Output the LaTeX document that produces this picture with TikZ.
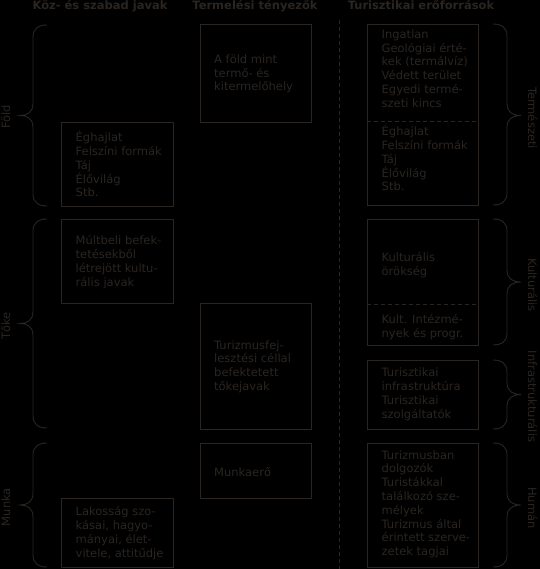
\documentclass[tikz,border=0pt]{standalone}
\usepackage{fontspec}
\setmainfont{DejaVu Sans}
\definecolor{ink}{RGB}{42,37,33}
\newcommand{\bodyfont}{\fontsize{11.5bp}{13.8bp}\selectfont}
\newcommand{\boxtext}[1]{\parbox[t]{130bp}{\raggedright\bodyfont #1}}
\newcommand{\leftbr}[3]{% top, bottom, mid
  \draw[bracest] (47,#1) .. controls (38,#1) and (33,#1+4) .. (33,#1+12)
    -- (33,#3-12) .. controls (33,#3-3) and (27,#3) .. (20,#3)
    .. controls (27,#3) and (33,#3+3) .. (33,#3+12)
    -- (33,#2-12) .. controls (33,#2-4) and (38,#2) .. (47,#2);}
\newcommand{\rightbr}[3]{% top, bottom, mid
  \draw[bracest] (493,#1) .. controls (502,#1) and (507,#1+4) .. (507,#1+12)
    -- (507,#3-12) .. controls (507,#3-3) and (513,#3) .. (521,#3)
    .. controls (513,#3) and (507,#3+3) .. (507,#3+12)
    -- (507,#2-12) .. controls (507,#2-4) and (502,#2) .. (493,#2);}
\tikzset{
  boxst/.style={draw=ink, line width=0.9bp, inner sep=0pt},
  txt/.style={anchor=base west, inner sep=0pt, text=ink},
  head/.style={anchor=base, inner sep=0pt, text=ink, font=\bfseries\fontsize{11.5bp}{13.8bp}\selectfont},
  lab/.style={anchor=base, inner sep=0pt, text=ink, font=\bodyfont},
  bracest/.style={draw=ink, line width=0.9bp},
  dashst/.style={draw=ink, line width=0.9bp, dash pattern=on 4bp off 3bp}
}
\begin{document}
\begin{tikzpicture}[x=1bp,y=-1bp]
\fill[black] (0,0) rectangle (540,569);
\useasboundingbox (0,0) rectangle (540,569);
% headers
\node[head] (h1) at (100,10) {Köz- és szabad javak};
\node[head] (h2) at (255,10) {Termelési tényezők};
\node[head] (h3) at (421,10) {Turisztikai erőforrások};
% dashed separator
\coordinate (st) at (339,20);
\coordinate (sb) at (339,569);
\draw[dashst] (st) -- (sb);
% column 1 boxes
\node[boxst, minimum width=112bp, minimum height=84bp] (c1a) at (117,164) {};
\node[boxst, minimum width=112bp, minimum height=84bp] (c1b) at (117,261) {};
\node[boxst, minimum width=112bp, minimum height=69bp] (c1c) at (117,532.5) {};
% column 2 boxes
\node[boxst, minimum width=111bp, minimum height=98bp] (c2a) at (255.5,73) {};
\node[boxst, minimum width=111bp, minimum height=126bp] (c2b) at (255.5,366) {};
\node[boxst, minimum width=111bp, minimum height=55bp] (c2c) at (255.5,470.5) {};
% column 3 boxes
\node[boxst, minimum width=111bp, minimum height=181bp] (c3a) at (422.5,114.5) {};
\node[boxst, minimum width=111bp, minimum height=126bp] (c3b) at (422.5,282) {};
\node[boxst, minimum width=111bp, minimum height=69bp] (c3c) at (422.5,394.5) {};
\node[boxst, minimum width=111bp, minimum height=124bp] (c3d) at (422.5,505) {};
\draw[dashst] (c3a.west |- 0,121) -- (c3a.east |- 0,121);
\draw[dashst] (c3b.west |- 0,304) -- (c3b.east |- 0,304);
% texts column 1
\node[txt] (t1a) at (75.5,141.7) {\boxtext{Éghajlat\\Felszíni formák\\Táj\\Élővilág\\Stb.}};
\node[txt] (t1b) at (75.5,244.7) {\boxtext{Múltbeli befek-\\tetésekből\\létrejött kultu-\\rális javak}};
\node[txt] (t1c) at (75.5,515.7) {\boxtext{Lakosság szo-\\kásai, hagyo-\\mányai, élet-\\vitele, attitűdje}};
% texts column 2
\node[txt] (t2a) at (214,63.3) {\boxtext{A föld mint\\termő- és\\kitermelőhely}};
\node[txt] (t2b) at (214,349) {\boxtext{Turizmusfej-\\lesztési céllal\\befektetett\\tőkejavak}};
\node[txt] (t2c) at (214,476) {\boxtext{Munkaerő}};
% texts column 3
\node[txt] (t3a) at (381.5,38.3) {\boxtext{Ingatlan\\Geológiai érté-\\kek (termálvíz)\\Védett terület\\Egyedi termé-\\szeti kincs}};
\node[txt] (t3b) at (381.5,135.7) {\boxtext{Éghajlat\\Felszíni formák\\Táj\\Élővilág\\Stb.}};
\node[txt] (t3c) at (381.5,261.7) {\boxtext{Kulturális\\örökség}};
\node[txt] (t3d) at (381.5,323.3) {\boxtext{Kult. Intézmé-\\nyek és progr.}};
\node[txt] (t3e) at (381.5,376.7) {\boxtext{Turisztikai\\infrastruktúra\\Turisztikai\\szolgáltatók}};
\node[txt] (t3f) at (381.5,459) {\boxtext{Turizmusban\\dolgozók\\Turistákkal\\találkozó sze-\\mélyek\\Turizmus által\\érintett szerve-\\zetek tagjai}};
% left braces and labels
\leftbr{25}{206}{115.5}
\leftbr{219}{428}{323.5}
\leftbr{443}{567}{505}
\node[lab, rotate=90] (lf) at (10,117) {Föld};
\node[lab, rotate=90] (lt) at (10,326) {Tőke};
\node[lab, rotate=90] (lm) at (10,507) {Munka};
% right braces and labels
\rightbr{24}{205}{115.5}
\rightbr{219}{345}{282}
\rightbr{360}{429}{394.5}
\rightbr{443}{567}{505}
\node[lab, rotate=-90] (rt) at (528,118) {Természeti};
\node[lab, rotate=-90] (rk) at (528,285) {Kulturális};
\node[lab, rotate=-90] (ri) at (528,396.5) {Infrastrukturális};
\node[lab, rotate=-90] (rh) at (528,508) {Humán};
\end{tikzpicture}
\end{document}
